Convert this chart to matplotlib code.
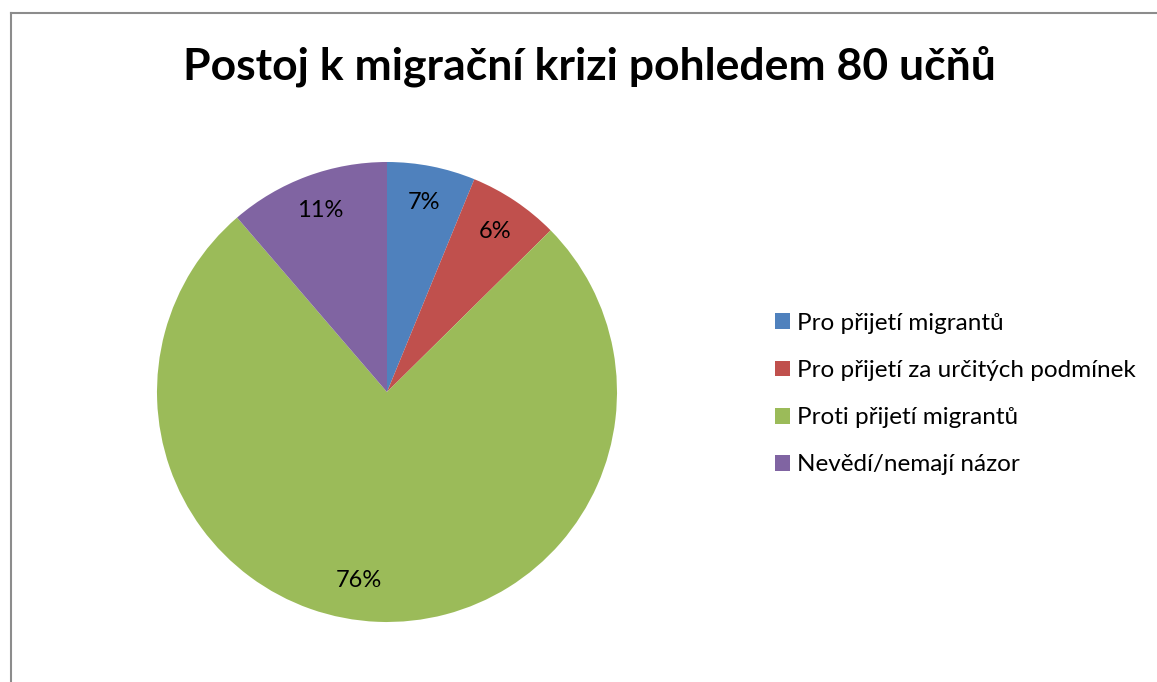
#
#       Postoj k migracni krizi - kolacovy graf
#

import matplotlib.pyplot as plt
from matplotlib.lines import Line2D

plt.rcParams['font.family'] = ['Lato', 'DejaVu Sans']

categories = ["Pro přijetí migrantů", "Pro přijetí za určitých podmínek",
              "Proti přijetí migrantů", "Nevědí/nemají názor"]
shares = [6.2, 6.4, 76.1, 11.3]
pct_labels = ["7%", "6%", "76%", "11%"]
colors = ['#4F81BD', '#C0504D', '#9BBB59', '#8064A2']

W, H = 1157, 682
fig = plt.figure(figsize=(W / 100, H / 100), dpi=100)

#   Osa s kolacem: stred (387, 392) px, polomer 230 px
cx, cy, r = 387, 392, 230
ax = fig.add_axes([(cx - r) / W, (H - cy - r) / H, 2 * r / W, 2 * r / H])
wedges, texts = ax.pie(shares, labels=pct_labels, colors=colors,
                       startangle=90, counterclock=False, labeldistance=0.84,
                       wedgeprops={'linewidth': 0},
                       textprops={'fontsize': 17, 'color': 'black'})
for t in texts:
    t.set_ha('center')
    t.set_va('center')
#   Excel umistil popisek velke vysece trochu vlevo
x0, y0 = texts[2].get_position()
texts[2].set_position((x0 - 0.09, y0 + 0.02))
ax.set_xlim(-1, 1)
ax.set_ylim(-1, 1)

#   Titulek
fig.text(589 / W, 1 - 66 / H, "Postoj k migrační krizi pohledem 80 učňů",
         fontsize=32, fontweight='bold', ha='center', va='center')

#   Legenda
fig.legend(wedges, categories, loc='upper left',
           bbox_to_anchor=(765 / W, 1 - 303 / H), frameon=False,
           fontsize=17.5, handlelength=0.62, handleheight=0.62,
           handletextpad=0.3, labelspacing=1.08, borderaxespad=0)

#   Ramecek oblasti grafu (jen levy a horni okraj je videt)
fig.add_artist(Line2D([10.5 / W, 10.5 / W], [0, 1 - 13 / H],
                      color='#8c8c8c', lw=1.5))
fig.add_artist(Line2D([10.5 / W, 1], [1 - 13 / H, 1 - 13 / H],
                      color='#8c8c8c', lw=1.5))

plt.savefig('out.png', dpi=100)
